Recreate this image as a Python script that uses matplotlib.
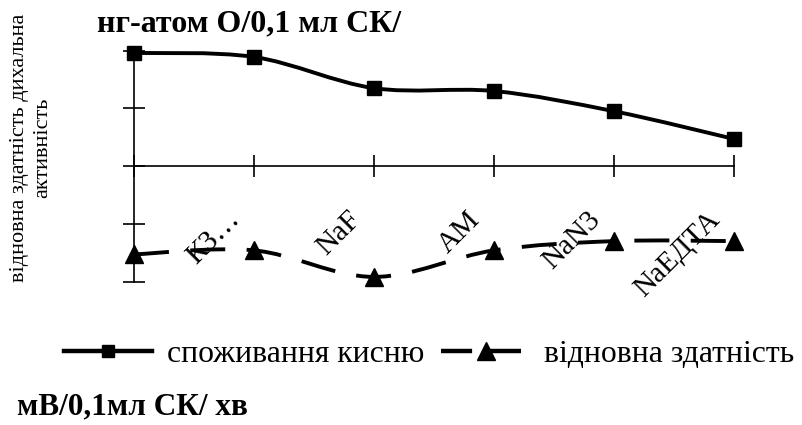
import matplotlib
matplotlib.use("Agg")
import matplotlib.pyplot as plt
from matplotlib.path import Path
from matplotlib.patches import PathPatch
from matplotlib.lines import Line2D

# category labels (first point has no label in the original)
categories = ["", "КЗ…", "NaF", "АМ", "NaN3", "NaЕДТА"]
# oxygen consumption, upper series (axis units, no numeric labels shown)
oxygen = [1.96, 1.89, 1.35, 1.30, 0.95, 0.47]
# reducing capacity, lower series
reduction = [-1.53, -1.46, -1.92, -1.46, -1.30, -1.30]

series_labels = ["споживання кисню", "відновна здатність"]
title_top = "нг-атом О/0,1 мл СК/"
title_bottom = "мВ/0,1мл СК/ хв"
ylabel = "відновна здатність дихальна\nактивність"

plt.rcParams["font.family"] = ["Liberation Serif", "DejaVu Serif"]


def smooth_path(xs, ys):
    # excel-like smoothed line: cubic bezier through the points
    pts = list(zip(xs, ys))
    verts = [pts[0]]
    codes = [Path.MOVETO]
    for i in range(len(pts) - 1):
        p0 = pts[i - 1] if i > 0 else pts[i]
        p1 = pts[i]
        p2 = pts[i + 1]
        p3 = pts[i + 2] if i + 2 < len(pts) else pts[i + 1]
        c1 = (p1[0] + (p2[0] - p0[0]) / 6, p1[1] + (p2[1] - p0[1]) / 6)
        c2 = (p2[0] - (p3[0] - p1[0]) / 6, p2[1] - (p3[1] - p1[1]) / 6)
        verts += [c1, c2, p2]
        codes += [Path.CURVE4] * 3
    return Path(verts, codes)


def main():
    fig = plt.figure(figsize=(8.02, 4.25), dpi=100)
    ax = fig.add_axes([0.1671, 0.3376, 0.748, 0.5433])
    x = list(range(len(categories)))

    dash = (0, (9, 5.5))
    ax.add_patch(PathPatch(smooth_path(x, oxygen), fill=False, color="black",
                           lw=2.8, zorder=3, clip_on=False))
    ax.add_patch(PathPatch(smooth_path(x, reduction), fill=False, color="black",
                           lw=2.8, linestyle=dash, capstyle="butt", zorder=3,
                           clip_on=False))
    ax.plot(x, oxygen, linestyle="none", marker="s", ms=9.5, color="black",
            zorder=4, clip_on=False)
    ax.plot(x, reduction, linestyle="none", marker="^", ms=13.5, color="black",
            zorder=4, clip_on=False)

    ax.set_xlim(0, len(categories) - 1)
    ax.set_ylim(-2, 2)
    ax.spines["top"].set_visible(False)
    ax.spines["right"].set_visible(False)
    ax.spines["bottom"].set_position("zero")
    for s in ("left", "bottom"):
        ax.spines[s].set_linewidth(1.2)
    ax.set_xticks(x)
    ax.set_yticks([-2, -1, 0, 1, 2])
    ax.set_xticklabels([])
    ax.set_yticklabels([])
    ax.tick_params(direction="inout", length=16, width=1.2)

    for i, lab in enumerate(categories):
        ax.text(i - 0.07, -0.7, lab, rotation=45, ha="right", va="top",
                fontsize=21)

    fig.text(97 / 802, 1 - 24 / 425, title_top, fontsize=23,
             fontweight="bold", va="center", ha="left")
    fig.text(17 / 802, 1 - 407 / 425, title_bottom, fontsize=22.5,
             fontweight="bold", va="center", ha="left")
    fig.text(31 / 802, 1 - 148 / 425, ylabel, rotation=90, fontsize=16,
             ha="center", va="center", multialignment="center",
             linespacing=1.3)

    handles = [
        Line2D([], [], color="black", lw=3.2, marker="s", ms=9),
        Line2D([], [], color="black", lw=3.2, linestyle=(0, (7, 4)),
               marker="^", ms=13),
    ]
    fig.legend(handles, series_labels, ncol=2, loc="center",
               bbox_to_anchor=(0.535, 0.165), frameon=False, fontsize=22.8,
               handlelength=2.8, handletextpad=0.45, columnspacing=0.55)

    fig.savefig("out.png", dpi=100)


if __name__ == "__main__":
    main()
